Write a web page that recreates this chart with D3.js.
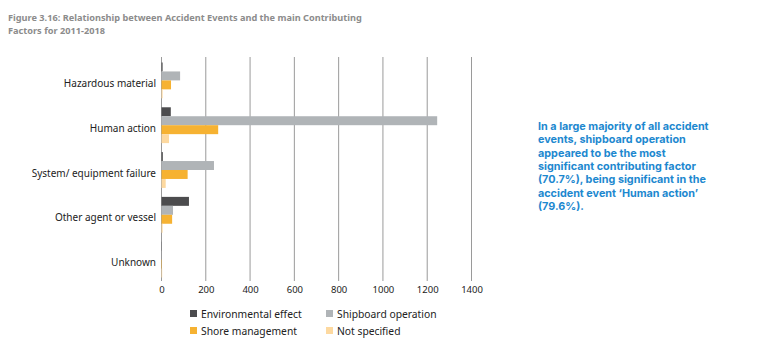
<!DOCTYPE html>
<html><head><meta charset="utf-8">
<script src="https://cdn.jsdelivr.net/npm/d3@7"></script>
<style>body{margin:0;background:#fff;} svg{display:block;}</style>
</head><body>
<svg id="c" width="776" height="358"></svg>
<script>
const categories = ["Hazardous material","Human action","System/ equipment failure","Other agent or vessel","Unknown"];
const seriesNames = ["Environmental effect","Shipboard operation","Shore management","Not specified"];
const environmental = [5, 42, 6, 124, 1];
const shipboard = [84, 1245, 237, 52, 0];
const shore = [43, 256, 118, 48, 2];
const notSpecified = [5, 34, 19, 5, 3];
const tickValues = [0,200,400,600,800,1000,1200,1400];
const colors = ["#4c4c4e","#b0b4b7","#f6b232","#fdd9a0"];
const titleLines = ["Figure 3.16: Relationship between Accident Events and the main Contributing","Factors for 2011-2018"];
const noteLines = ["In a large majority of all accident","events, shipboard operation","appeared to be the most","significant contributing factor","(70.7%), being significant in the","accident event \u2018Human action\u2019","(79.6%)."];

const seriesVals = [environmental, shipboard, shore, notSpecified];
const svg = d3.select("#c");
const font = "'Noto Sans', sans-serif";

svg.append("g").selectAll("text").data(titleLines).join("text")
  .attr("x", 8).attr("y", (d,i)=>21+i*13)
  .attr("font-family", font).attr("font-size", 9.2).attr("font-weight", 700)
  .attr("fill", "#8c8c8c").text(d=>d);

const x = d3.scaleLinear().domain([0,1400]).range([161.5, 471.5]);
const y0 = d3.scaleBand().domain(categories).range([58, 282]).paddingInner(0.2).paddingOuter(0.1);
const y1 = d3.scaleBand().domain(seriesNames).range([0, y0.bandwidth()]);

svg.append("g").selectAll("line").data(tickValues).join("line")
  .attr("x1", d=>x(d)).attr("x2", d=>x(d)).attr("y1", 57).attr("y2", 281)
  .attr("stroke", "#9a9a9a").attr("stroke-width", 1);

const groups = svg.append("g").selectAll("g").data(categories).join("g")
  .attr("transform", d=>`translate(0,${y0(d)})`);
groups.selectAll("rect").data((c,ci)=>seriesNames.map((s,si)=>({s, si, v: seriesVals[si][ci]})))
  .join("rect")
  .attr("x", x(0)).attr("y", d=>y1(d.s)).attr("height", y1.bandwidth())
  .attr("width", d=>x(d.v)-x(0)).attr("fill", d=>colors[d.si]);

svg.append("g").selectAll("text").data(categories).join("text")
  .attr("x", 156).attr("y", d=>y0(d)+y0.bandwidth()/2+6.5)
  .attr("text-anchor","end").attr("font-family", font).attr("font-size", 10)
  .attr("fill","#222").text(d=>d);

const xAxis = d3.axisBottom(x).tickValues(tickValues).tickFormat(d3.format("d")).tickSize(0).tickPadding(0);
const ag = svg.append("g").attr("transform","translate(0,286)").call(xAxis);
ag.select(".domain").remove();
ag.selectAll("text").attr("font-family", font).attr("font-size", 9.5).attr("fill","#222").attr("dy","0.71em");

const leg = svg.append("g");
const legPos = [[190,314],[326,314],[190,331],[326,331]];
seriesNames.forEach((s,i)=>{
  leg.append("rect").attr("x", legPos[i][0]).attr("y", legPos[i][1]-4).attr("width",7).attr("height",7).attr("fill", colors[i]);
  leg.append("text").attr("x", legPos[i][0]+11).attr("y", legPos[i][1]+3.5)
    .attr("font-family", font).attr("font-size", 10.3).attr("fill","#222").text(s);
});

svg.append("g").selectAll("text").data(noteLines).join("text")
  .attr("x", 538).attr("y", (d,i)=>130+i*13.3)
  .attr("font-family", "Inter, sans-serif").attr("font-size", 10.8).attr("font-weight", 700)
  .attr("fill","#1d88cf").text(d=>d);
</script>
</body></html>
